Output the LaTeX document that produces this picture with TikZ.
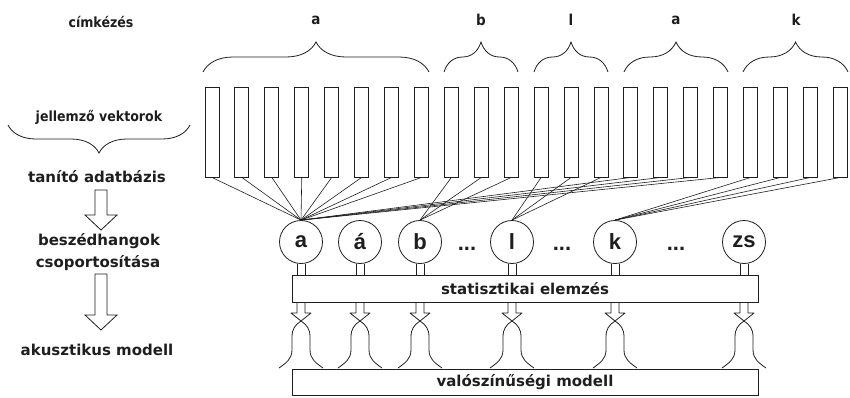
\documentclass[tikz,border=0pt]{standalone}
\usepackage{fontspec}
\setmainfont{DejaVu Sans}
\newfontfamily\arialfont{Liberation Sans}[BoldFont={Liberation Sans Bold}]
\newfontfamily\condfont{DejaVu Sans Condensed}[BoldFont={DejaVu Sans Condensed Bold}]
\usetikzlibrary{decorations.pathreplacing}
\definecolor{ink}{RGB}{30,30,30}
\tikzset{
  base/.style={draw=ink, line width=0.8pt},
  vec/.style={base, line width=0.9pt, minimum width=14pt, minimum height=90pt, inner sep=0pt},
  phon/.style={base, circle, minimum size=43pt, inner sep=0pt, text=ink,
    font=\arialfont\bfseries\fontsize{22}{24}\selectfont},
  dotsl/.style={text=ink, font=\arialfont\bfseries\fontsize{22}{24}\selectfont},
  bar/.style={base, line width=0.9pt, inner sep=0pt, text=ink,
    font=\bfseries\fontsize{15}{18}\selectfont},
  small/.style={text=ink, font=\condfont\bfseries\fontsize{14}{17}\selectfont},
  toplab/.style={text=ink, font=\condfont\bfseries\fontsize{15}{17}\selectfont},
  side/.style={text=ink, font=\bfseries\fontsize{15}{18}\selectfont},
  brc/.style={base, decorate, decoration={brace, amplitude=30pt}},
  link/.style={draw=ink, line width=0.6pt},
  hollow/.style={base, fill=white, line join=miter},
}
\begin{document}
\begin{tikzpicture}[x=1pt, y=-1pt]
\useasboundingbox (0,0) rectangle (850,397);

% feature vectors
\foreach \i in {1,...,22}
  \node[vec] (v\i) at ({212+(\i-1)*29.92},132) {};

% labelling braces
\draw[brc] (203,72) -- (429,72);
\draw[brc] (444,72) -- (518,72);
\draw[brc] (534,72) -- (608,72);
\draw[brc] (624,72) -- (728,72);
\draw[brc] (743,72) -- (848,72);
\node[toplab] (la1) at (316,20) {a};
\node[toplab] (lb)  at (481,20) {b};
\node[toplab] (ll)  at (571,20) {l};
\node[toplab] (la2) at (676,20) {a};
\node[toplab] (lk)  at (796,20) {k};

% left column
\node[small] (cimk) at (101,22) {címkézés};
\node[small] (jell) at (99,117) {jellemző vektorok};
\draw[base, decorate, decoration={brace, amplitude=28pt}] (190,125) -- (8,125);
\node[side] (tan) at (97,177) {tanító adatbázis};
\node[side] (besz) at (99,241) {beszédhangok};
\node[side] (csop) at (98,263) {csoportosítása};
\node[side] (akus) at (97,350) {akusztikus modell};
\draw[hollow] (95,190) -- (107,190) -- (107,215) -- (117,215) -- (101,230)
  -- (85,215) -- (95,215) -- cycle;
\draw[hollow] (95,274) -- (107,274) -- (107,315) -- (117,315) -- (101,330)
  -- (85,315) -- (95,315) -- cycle;

% phoneme classes
\node[phon] (pa)  at (301,242) {a};
\node[phon] (paa) at (360,242) {á};
\node[phon] (pb)  at (420,242) {b};
\node[phon] (pl)  at (512,242) {l};
\node[phon] (pk)  at (615,242) {k};
\node[phon] (pzs) at (744,242) {zs};
\node[dotsl, anchor=base] (d1) at (467,250) {...};
\node[dotsl, anchor=base] (d2) at (562,250) {...};
\node[dotsl, anchor=base] (d3) at (676,250) {...};

% vectors grouped by label
\foreach \i in {1,...,8}   \draw[link] (v\i.south) -- (pa.north);
\foreach \i in {9,10,11}   \draw[link] (v\i.south) -- (pb.north);
\foreach \i in {12,13,14}  \draw[link] (v\i.south) -- (pl.north);
\foreach \i in {15,...,18} \draw[link] (v\i.south) -- (pa.north);
\foreach \i in {19,...,22} \draw[link] (v\i.south) -- (pk.north);

% statistics and probability model
\node[bar, minimum width=466pt, minimum height=27pt] (stat) at (525,288.5) {statisztikai elemzés};
\node[bar, minimum width=466pt, minimum height=26pt] (model) at (525,382) {valószínűségi modell};

\foreach \n in {pa,paa,pb,pl,pk,pzs} {
  \draw[base] ([xshift=-4pt]\n.south) -- ([xshift=-4pt]\n.south |- stat.north);
  \draw[base] ([xshift=4pt]\n.south) -- ([xshift=4pt]\n.south |- stat.north);
}

% hollow arrows turning into density curves
\foreach \c in {301,360,420,512,615,744} {
  \begin{scope}[shift={(\c,0)}]
    \draw[base, line join=round]
      (-4,302) -- (-4,313) -- (-10,313) -- (0,321)
      .. controls (6,325) and (9,329) .. (9,337) -- (9,350)
      .. controls (9,359) and (15,363) .. (22,368);
    \draw[base, line join=round]
      (4,302) -- (4,313) -- (10,313) -- (0,321)
      .. controls (-6,325) and (-9,329) .. (-9,337) -- (-9,350)
      .. controls (-9,359) and (-15,363) .. (-22,368);
  \end{scope}
}
\end{tikzpicture}
\end{document}
